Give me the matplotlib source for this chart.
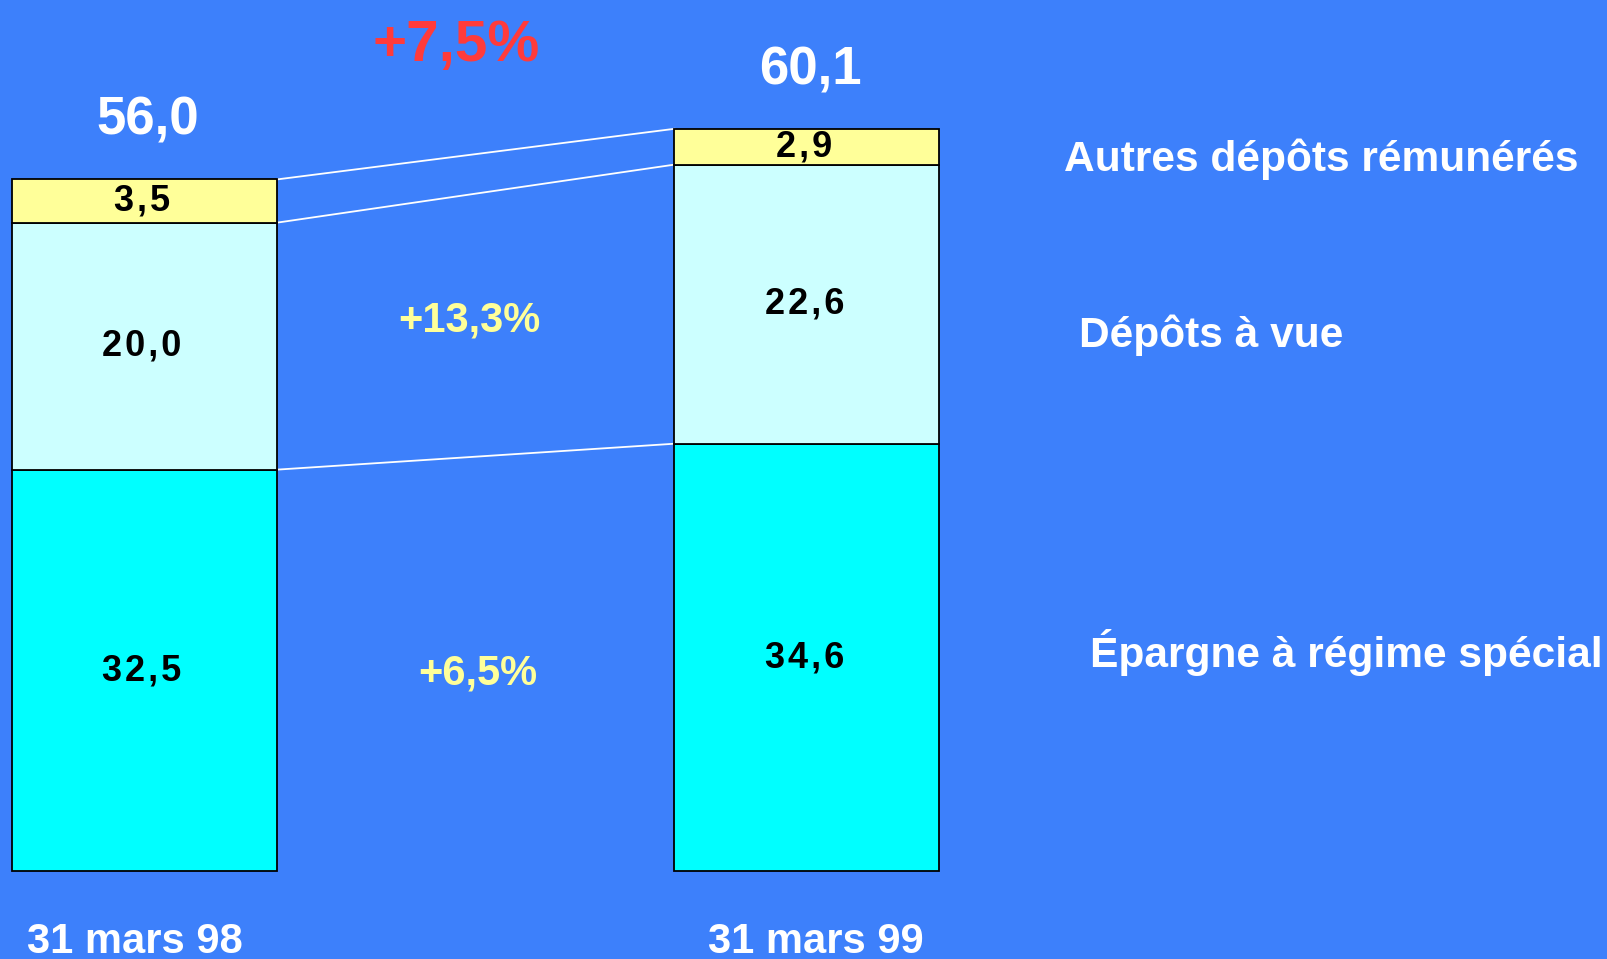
import matplotlib
matplotlib.use("Agg")
import matplotlib.pyplot as plt
import numpy as np

plt.rcParams['font.family'] = ['Liberation Sans', 'DejaVu Sans']

# ---- data ----
categories = ["31 mars 98", "31 mars 99"]
series_names = ["Épargne à régime spécial", "Dépôts à vue", "Autres dépôts rémunérés"]
epargne = [32.5, 34.6]
depots_vue = [20.0, 22.6]
autres = [3.5, 2.9]
totals = ["56,0", "60,1"]
growth_total = "+7,5%"
growth_vue = "+13,3%"
growth_epargne = "+6,5%"

series = [epargne, depots_vue, autres]
colors = ["#00FFFF", "#CCFFFF", "#FFFF99"]
bg = "#3D80FB"

fig = plt.figure(figsize=(16.07, 9.59), dpi=100)
fig.patch.set_facecolor(bg)
ax = fig.add_axes([0, 0, 1, 1])
ax.set_facecolor(bg)
ax.set_xlim(-0.218, 2.2075)
ax.set_ylim(-7.126, 70.53)
ax.axis("off")


def spaced(s):
    return "\u200a".join(s)


x = np.arange(len(categories))
width = 0.4
bottom = np.zeros(len(categories))
bounds = []
for vals, col in zip(series, colors):
    vals = np.array(vals)
    ax.bar(x, vals, width, bottom=bottom, color=col, edgecolor="black",
           linewidth=1.3, zorder=2)
    for xi, b, v in zip(x, bottom, vals):
        ax.text(xi - 0.004, b + v / 2 + 0.3, spaced(f"{v:.1f}".replace(".", ",")),
                ha="center", va="center_baseline", fontsize=26,
                fontweight="bold", color="black", zorder=3)
    bottom = bottom + vals
    bounds.append(bottom.copy())

# connector lines between bars
for bnd in bounds:
    ax.plot([x[0] + width / 2, x[1] - width / 2], [bnd[0], bnd[1]],
            color="white", linewidth=1.3, zorder=1)

# totals
for xi, tot, t in zip(x, bottom, totals):
    ax.text(xi + 0.005, tot + 3.6, t, ha="center", va="baseline",
            fontsize=38, fontweight="bold", color="white")

# growth annotations
ax.text(0.470, 65.6, growth_total, ha="center", va="baseline",
        fontsize=42, fontweight="bold", color="#FF3B3B")
ax.text(0.490, 43.7, growth_vue, ha="center", va="baseline",
        fontsize=30, fontweight="bold", color="#FFFF99")
ax.text(0.503, 15.1, growth_epargne, ha="center", va="baseline",
        fontsize=30, fontweight="bold", color="#FFFF99")

# series labels on the right
label_pos = [(1.427, 16.5), (1.411, 42.4), (1.388, 56.7)]
for name, (lx, ly) in zip(series_names, label_pos):
    ax.text(lx, ly, name, ha="left", va="baseline", fontsize=30.6,
            fontweight="bold", color="white")

# category labels
for xi, cat, off in zip(x, categories, [-0.014, 0.014]):
    ax.text(xi + off, -6.6, cat, ha="center", va="baseline", fontsize=30,
            fontweight="bold", color="white")

fig.savefig("out.png", dpi=100, facecolor=bg)
